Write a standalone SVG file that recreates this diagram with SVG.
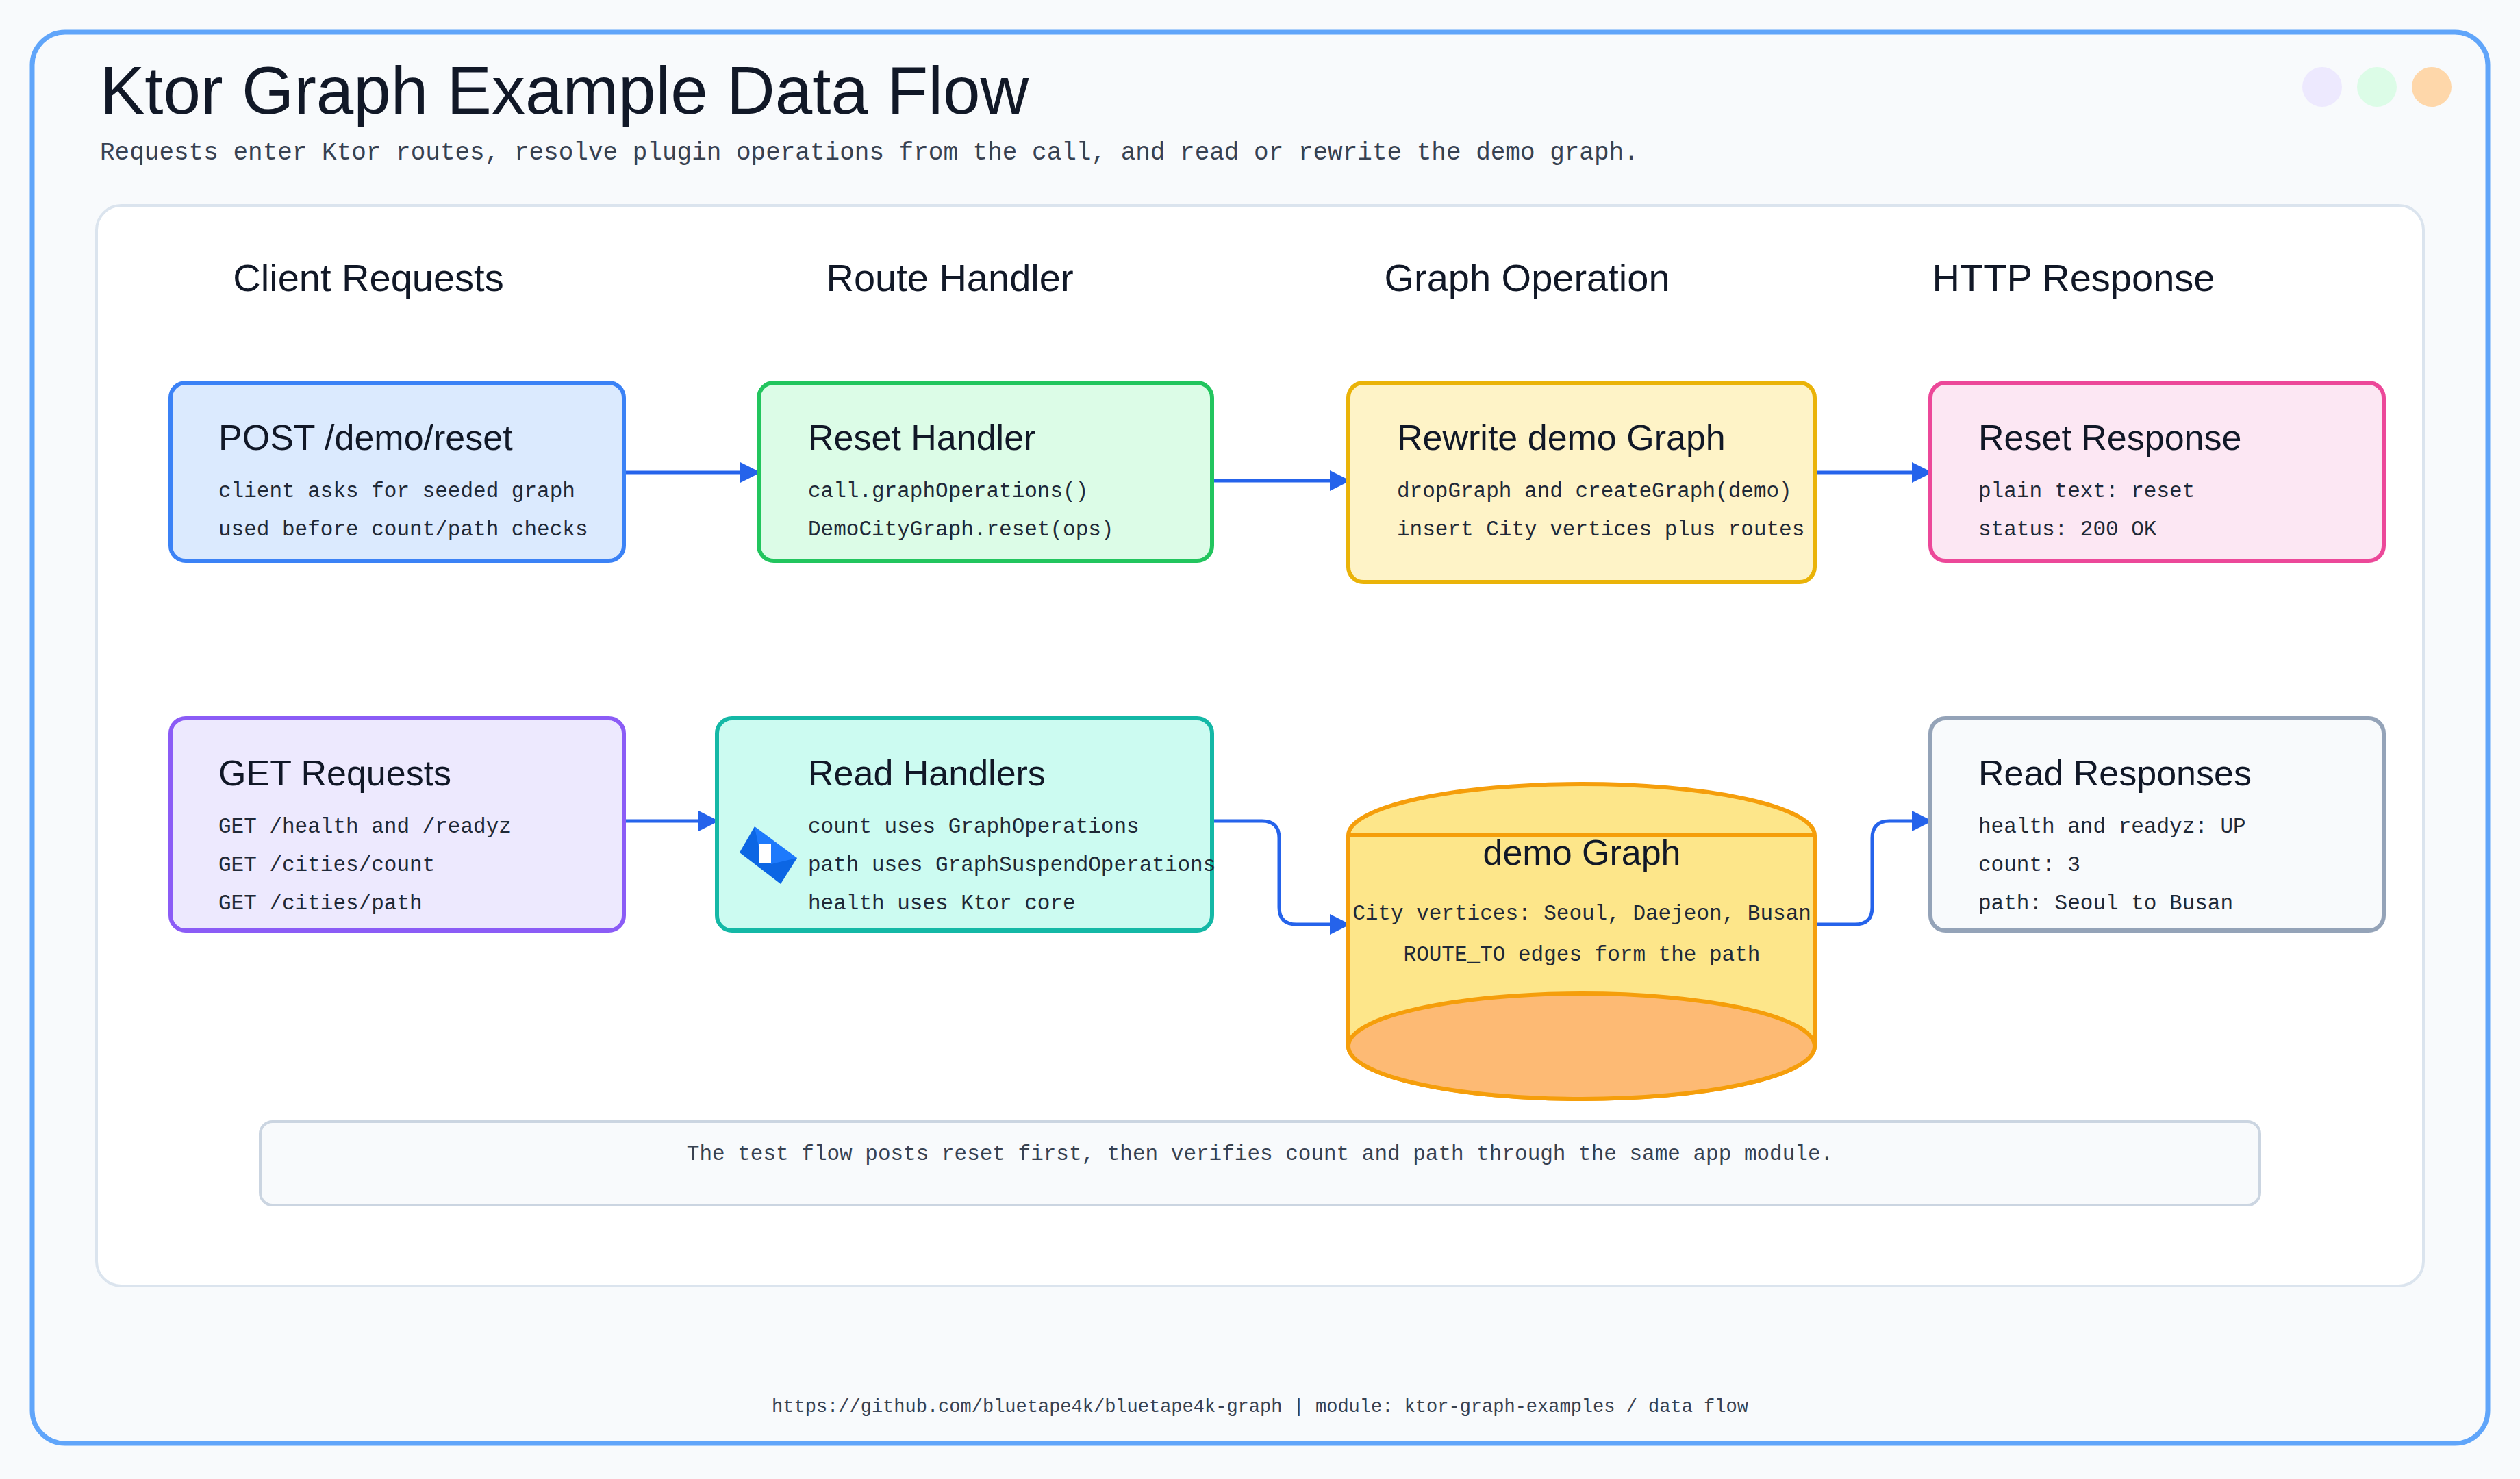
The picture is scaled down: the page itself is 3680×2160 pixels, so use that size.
<svg xmlns="http://www.w3.org/2000/svg" width="3680" height="2160" viewBox="0 0 3680 2160">
<defs>
<marker id="ah" viewBox="0 0 10 10" refX="9" refY="5" markerWidth="6" markerHeight="6" markerUnits="strokeWidth" orient="auto"><path d="M0,0 L10,5 L0,10 z" fill="#2563eb"/></marker>
<style>
.hand{font-family:"Liberation Sans","Noto Sans",sans-serif;fill:#111827}
.mono{font-family:"Liberation Mono","DejaVu Sans Mono",monospace;fill:#374151}
.hdr{font-size:56px;text-anchor:middle}
.nt{font-size:52px}
.nl{font-size:31px;fill:#1f2937}
.node{stroke-width:6}
.conn{fill:none;stroke:#2563eb;stroke-width:5;marker-end:url(#ah)}
</style>
</defs>
<rect width="3680" height="2160" fill="#f8fafc"/>
<rect x="47" y="47" width="3586" height="2061" rx="48" fill="#f8fafc" stroke="#60a5fa" stroke-width="7"/>
<rect x="141" y="300" width="3398" height="1578" rx="36" fill="#ffffff" stroke="#dbe4ee" stroke-width="4"/>
<text class="hand" x="146" y="166" font-size="98">Ktor Graph Example Data Flow</text>
<text class="mono" x="146" y="233" font-size="36" fill="#4b5563">Requests enter Ktor routes, resolve plugin operations from the call, and read or rewrite the demo graph.</text>
<circle cx="3391" cy="127" r="29" fill="#ede9fe"/>
<circle cx="3471" cy="127" r="29" fill="#dcfce7"/>
<circle cx="3551" cy="127" r="29" fill="#fed7aa"/>
<g id="headers">
<text class="hand hdr" x="538" y="425">Client Requests</text>
<text class="hand hdr" x="1387" y="425">Route Handler</text>
<text class="hand hdr" x="2230" y="425">Graph Operation</text>
<text class="hand hdr" x="3028" y="425">HTTP Response</text>
</g>
<g id="connectors">
<path class="conn" d="M911,690 L1108,690"/>
<path class="conn" d="M1770,702 L1969,702"/>
<path class="conn" d="M2650,690 L2819,690"/>
<path class="conn" d="M911,1199 L1047,1199"/>
<path class="conn" d="M1770,1199 L1843,1199 Q1868,1199 1868,1224 L1868,1325 Q1868,1350 1893,1350 L1969,1350"/>
<path class="conn" d="M2650,1350 L2709,1350 Q2734,1350 2734,1325 L2734,1224 Q2734,1199 2759,1199 L2819,1199"/>
</g>
<g id="post">
<rect class="node" x="249" y="559" width="662" height="260" rx="22" fill="#dbeafe" stroke="#3b82f6"/>
<text class="hand nt" x="319" y="657">POST /demo/reset</text>
<text class="mono nl" x="319" y="726">client asks for seeded graph</text>
<text class="mono nl" x="319" y="782">used before count/path checks</text>
</g>
<g id="reset-handler">
<rect class="node" x="1108" y="559" width="662" height="260" rx="22" fill="#dcfce7" stroke="#22c55e"/>
<text class="hand nt" x="1180" y="657">Reset Handler</text>
<text class="mono nl" x="1180" y="726">call.graphOperations()</text>
<text class="mono nl" x="1180" y="782">DemoCityGraph.reset(ops)</text>
</g>
<g id="rewrite">
<rect class="node" x="1969" y="559" width="681" height="291" rx="22" fill="#fef3c7" stroke="#eab308"/>
<text class="hand nt" x="2040" y="657">Rewrite demo Graph</text>
<text class="mono nl" x="2040" y="726">dropGraph and createGraph(demo)</text>
<text class="mono nl" x="2040" y="782">insert City vertices plus routes</text>
</g>
<g id="reset-response">
<rect class="node" x="2819" y="559" width="662" height="260" rx="22" fill="#fce7f3" stroke="#ec4899"/>
<text class="hand nt" x="2889" y="657">Reset Response</text>
<text class="mono nl" x="2889" y="726">plain text: reset</text>
<text class="mono nl" x="2889" y="782">status: 200 OK</text>
</g>
<g id="get">
<rect class="node" x="249" y="1049" width="662" height="310" rx="22" fill="#ede9fe" stroke="#8b5cf6"/>
<text class="hand nt" x="319" y="1147">GET Requests</text>
<text class="mono nl" x="319" y="1216">GET /health and /readyz</text>
<text class="mono nl" x="319" y="1272">GET /cities/count</text>
<text class="mono nl" x="319" y="1328">GET /cities/path</text>
</g>
<g id="read-handlers">
<rect class="node" x="1047" y="1049" width="723" height="310" rx="22" fill="#ccfbf1" stroke="#14b8a6"/>
<text class="hand nt" x="1180" y="1147">Read Handlers</text>
<polygon points="1102,1207 1080,1245 1108,1249 1108,1230" fill="#0c66e4"/>
<polygon points="1080,1245 1140,1291 1164,1253 1136,1245" fill="#0c66e4"/>
<polygon points="1102,1207 1164,1253 1126,1262 1108,1237" fill="#1d7afc"/>
<rect x="1108" y="1232" width="18" height="28" fill="#ffffff"/>
<text class="mono nl" x="1180" y="1216">count uses GraphOperations</text>
<text class="mono nl" x="1180" y="1272">path uses GraphSuspendOperations</text>
<text class="mono nl" x="1180" y="1328">health uses Ktor core</text>
</g>
<g id="demo-graph">
<path d="M1969,1220 A340.5,75 0 0 1 2650,1220 L2650,1528 A340.5,77 0 0 1 1969,1528 Z" fill="#fde68a" stroke="#f59e0b" stroke-width="6"/>
<line x1="1969" y1="1220" x2="2650" y2="1220" stroke="#f59e0b" stroke-width="6"/>
<ellipse cx="2309.5" cy="1528" rx="340.5" ry="77" fill="#fdba74" stroke="#f59e0b" stroke-width="6"/>
<text class="hand nt" x="2310" y="1263" text-anchor="middle">demo Graph</text>
<text class="mono nl" x="2310" y="1343" text-anchor="middle">City vertices: Seoul, Daejeon, Busan</text>
<text class="mono nl" x="2310" y="1403" text-anchor="middle">ROUTE_TO edges form the path</text>
</g>
<g id="read-responses">
<rect class="node" x="2819" y="1049" width="662" height="310" rx="22" fill="#f8fafc" stroke="#94a3b8"/>
<text class="hand nt" x="2889" y="1147">Read Responses</text>
<text class="mono nl" x="2889" y="1216">health and readyz: UP</text>
<text class="mono nl" x="2889" y="1272">count: 3</text>
<text class="mono nl" x="2889" y="1328">path: Seoul to Busan</text>
</g>
<g id="note">
<rect x="380" y="1638" width="2920" height="122" rx="18" fill="#f8fafc" stroke="#cbd5e1" stroke-width="4"/>
<text class="mono" x="1840" y="1694" font-size="31" text-anchor="middle" fill="#1f2937">The test flow posts reset first, then verifies count and path through the same app module.</text>
</g>
<text class="mono" x="1840" y="2062" font-size="27" text-anchor="middle" fill="#374151">https://github.com/bluetape4k/bluetape4k-graph | module: ktor-graph-examples / data flow</text>
</svg>
